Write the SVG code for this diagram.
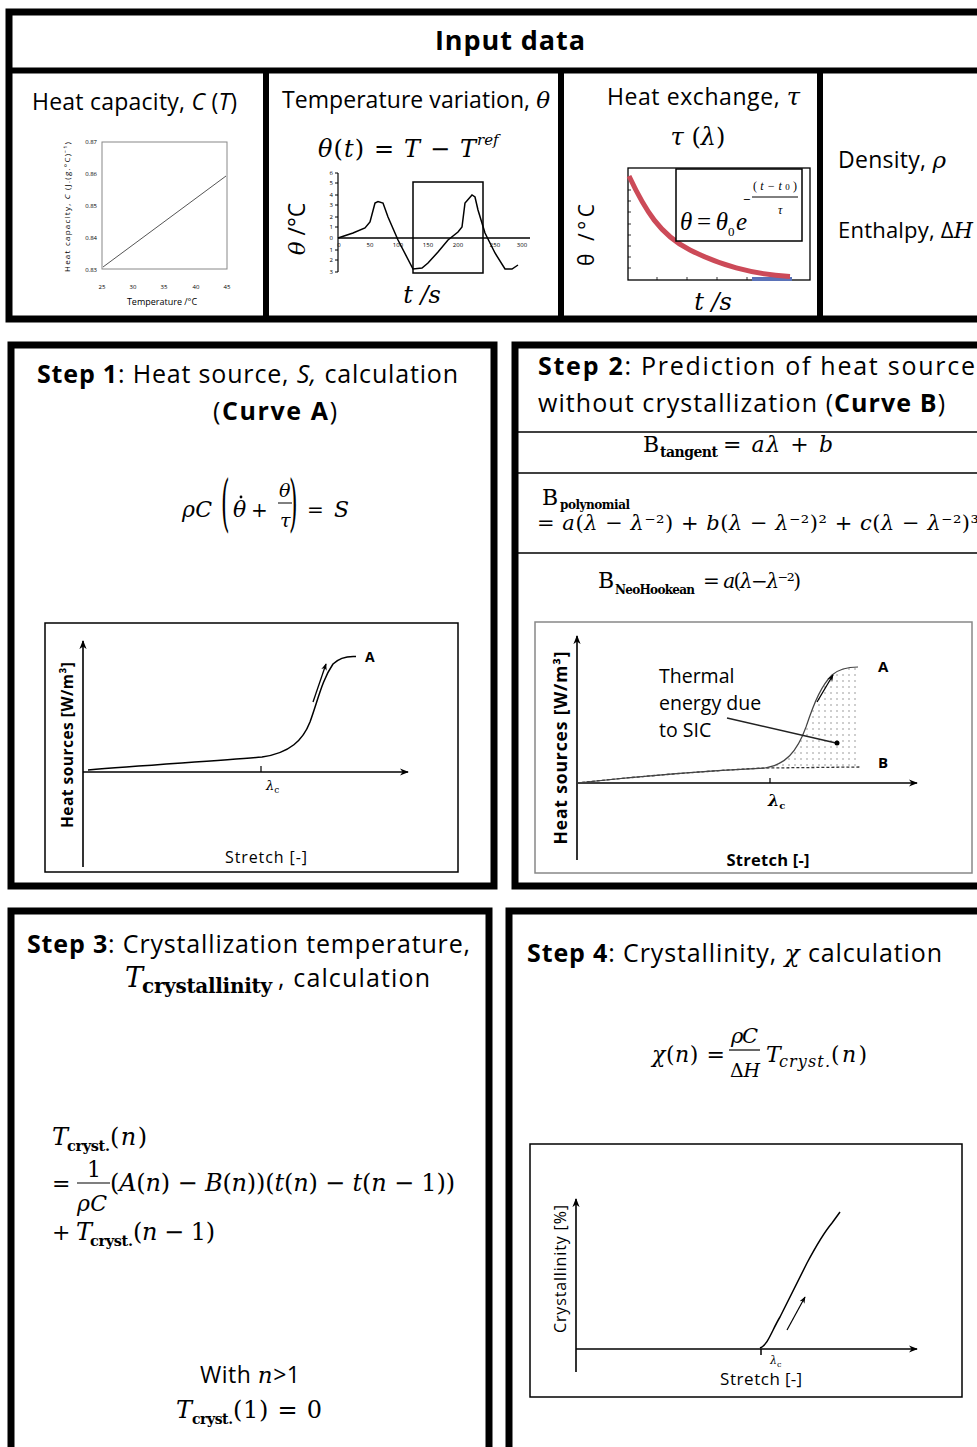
<svg xmlns="http://www.w3.org/2000/svg" width="977" height="1447" viewBox="0 0 977 1447">
<style>
text{font-family:"Open Sans","Liberation Sans",sans-serif;fill:#000}
.frame{fill:#fff;stroke:#000;stroke-width:7}
.div{stroke:#000;stroke-width:6}
.hd{font-size:23px}
.ttl{font-size:25px}
.b{font-weight:bold}
.m{font-family:"DejaVu Serif","Liberation Serif",serif;font-style:italic}
.lm{font-family:"Liberation Serif","DejaVu Serif",serif;font-style:italic}
.r{font-style:normal}
.sub{font-family:"DejaVu Serif","Liberation Serif",serif;font-weight:bold;font-style:normal}
.tick{font-size:6px;fill:#777}
.ax{fill:none;stroke:#000;stroke-width:1.6}
.sep{stroke:#000;stroke-width:1.5}
.cframe{fill:#fff;stroke:#000;stroke-width:1.5}
.curve{fill:none;stroke:#000;stroke-width:1.5}
</style>
<defs>
<marker id="ah" viewBox="0 0 10 10" refX="9" refY="5" markerWidth="9" markerHeight="9" markerUnits="userSpaceOnUse" orient="auto">
<path d="M0,1 L10,5 L0,9 L3,5 Z" fill="#000"/>
</marker>
<marker id="ahs" viewBox="0 0 10 10" refX="9" refY="5" markerWidth="7" markerHeight="7" markerUnits="userSpaceOnUse" orient="auto">
<path d="M0,1 L10,5 L0,9 L3,5 Z" fill="#000"/>
</marker>
<pattern id="dots" width="6" height="6" patternUnits="userSpaceOnUse">
<circle cx="3" cy="3" r="0.7" fill="#777"/>
</pattern>
</defs>
<rect x="0" y="0" width="977" height="1447" fill="#fff"/>

<!-- Input data -->
<g id="input-data">
<rect class="frame" x="9" y="12" width="985" height="307"/>
<line class="div" x1="9" y1="70.5" x2="977" y2="70.5"/>
<line class="div" x1="266" y1="70" x2="266" y2="319"/>
<line class="div" x1="561" y1="70" x2="561" y2="319"/>
<line class="div" x1="820" y1="70" x2="820" y2="319"/>
<text x="510" y="50" text-anchor="middle" font-size="27" font-weight="bold" textLength="150">Input data</text>

<g id="heat-capacity">
<text class="hd" x="32" y="110" textLength="205">Heat capacity, <tspan font-style="italic">C</tspan> (<tspan font-style="italic">T</tspan>)</text>
<rect x="102" y="142" width="125" height="127" fill="none" stroke="#888" stroke-width="1"/>
<line x1="103" y1="267" x2="226" y2="176" stroke="#555" stroke-width="1"/>
<g class="tick" text-anchor="end">
<text x="97" y="144">0.87</text><text x="97" y="176">0.86</text><text x="97" y="208">0.85</text><text x="97" y="240">0.84</text><text x="97" y="272">0.83</text>
</g>
<g class="tick" text-anchor="middle">
<text x="102" y="289">25</text><text x="133" y="289">30</text><text x="164" y="289">35</text><text x="196" y="289">40</text><text x="227" y="289">45</text>
</g>
<text x="162" y="305" text-anchor="middle" font-size="9" fill="#666">Temperature /°C</text>
<text transform="translate(70,207) rotate(-90)" text-anchor="middle" font-size="8" fill="#666" textLength="130">Heat capacity, <tspan font-style="italic">C</tspan> (J.(g.°C)⁻¹)</text>
</g>

<g id="temperature-variation">
<text class="hd" x="282" y="108" textLength="268">Temperature variation, <tspan class="m">θ</tspan></text>
<text class="m" x="318" y="157" font-size="24" textLength="158">θ<tspan class="r">(</tspan>t<tspan class="r">) = </tspan>T<tspan class="r"> − </tspan>T</text>
<text class="m" x="477" y="145" font-size="15">ref</text>
<line x1="338" y1="173" x2="338" y2="272" stroke="#000" stroke-width="1.2"/>
<path d="M335,173h3M335,183h3M335,195h3M335,205h3M335,217h3M335,227h3M335,250h3M335,260h3M335,272h3" stroke="#000" stroke-width="1"/>
<line x1="338" y1="238" x2="530" y2="238" stroke="#000" stroke-width="1.6"/>
<g class="tick" font-size="5" text-anchor="end">
<text x="333" y="175">6</text><text x="333" y="185">5</text><text x="333" y="197">4</text><text x="333" y="207">3</text><text x="333" y="219">2</text><text x="333" y="229">1</text><text x="333" y="240">0</text><text x="333" y="252">1</text><text x="333" y="262">2</text><text x="333" y="274">3</text>
</g>
<g class="tick" font-size="5" text-anchor="middle">
<text x="339" y="247">0</text><text x="370" y="247">50</text><text x="398" y="247">100</text><text x="428" y="247">150</text><text x="458" y="247">200</text><text x="495" y="247">250</text><text x="522" y="247">300</text>
</g>
<rect x="413" y="182" width="70" height="91" fill="none" stroke="#000" stroke-width="1.5"/>
<polyline class="curve" stroke-width="1.8" points="338,238 353,233 365,228 370,222 375,203 378,201.5 383,203 388,217 398,240 413,269 422,268 428,263 438,252 448,240 458,232 462,227 465,203 472,195 475,197 478,210 485,233 495,253 505,269 512,269 518,265"/>
<text transform="translate(305,229) rotate(-90)" text-anchor="middle" font-size="23"><tspan class="m">θ</tspan> /°C</text>
<text class="m" x="422" y="303" text-anchor="middle" font-size="24">t /s</text>
</g>

<g id="heat-exchange">
<text class="hd" x="607" y="105" textLength="193">Heat exchange, <tspan class="m" font-size="24">τ</tspan></text>
<text class="m" x="698" y="145" text-anchor="middle" font-size="24">τ<tspan class="r"> (</tspan>λ<tspan class="r">)</tspan></text>
<rect x="628" y="168" width="182" height="112" fill="none" stroke="#000" stroke-width="1.3"/>
<path d="M628,179h3M628,190h3M628,201h3M628,212h3M628,224h3M628,235h3M628,246h3M628,257h3M628,268h3M657,280v-3M687,280v-3M717,280v-3M747,280v-3M777,280v-3" stroke="#000" stroke-width="0.8"/>
<path d="M752,279 L792,279" stroke="#5a72b8" stroke-width="4" fill="none"/>
<path d="M629,176 C645,210 660,235 690,250 C720,265 750,274 790,276.5" stroke="#cc4a58" stroke-width="5" fill="none"/>
<rect x="676" y="169" width="126" height="72" fill="#fff" stroke="#000" stroke-width="1.5"/>
<text class="lm" x="680" y="230" font-size="25" textLength="48">θ<tspan class="r"> = </tspan>θ</text>
<text class="lm r" x="728" y="236" font-size="13">0</text>
<text class="lm" x="736" y="230" font-size="25">e</text>
<text x="743" y="204" font-size="13">−</text>
<text class="lm" x="753" y="190" font-size="12" textLength="44"><tspan class="r">(</tspan>t−t<tspan class="r" font-size="9">0</tspan><tspan class="r">)</tspan></text>
<line x1="752" y1="197" x2="798" y2="197" stroke="#000" stroke-width="1"/>
<text class="lm" x="778" y="214" font-size="12">τ</text>
<text transform="translate(594,235) rotate(-90)" text-anchor="middle" font-size="21" textLength="62">θ /°C</text>
<text class="m" x="713" y="310" text-anchor="middle" font-size="24">t /s</text>
</g>

<g id="density-enthalpy">
<text x="838" y="168" font-size="23" textLength="108">Density, <tspan class="m">ρ</tspan></text>
<text x="838" y="238" font-size="22" textLength="135">Enthalpy, Δ<tspan class="m">H</tspan></text>
</g>
</g>

<!-- Step 1 -->
<g id="step1">
<rect class="frame" x="11" y="345" width="483" height="541"/>
<text class="ttl" x="37" y="383" textLength="421"><tspan class="b">Step 1</tspan>: Heat source, <tspan font-style="italic">S,</tspan> calculation</text>
<text class="ttl" x="213" y="420" textLength="124">(<tspan class="b">Curve  A</tspan>)</text>
<text class="m" x="182" y="517" font-size="22" textLength="30">ρC</text>
<text class="m r" transform="translate(221,524) scale(1,2.8)" font-size="22">(</text>
<text class="m" x="233" y="517" font-size="22">θ</text>
<circle cx="241" cy="497" r="1.4" fill="#000"/>
<text class="m r" x="251" y="517" font-size="20">+</text>
<text class="m" x="279" y="497" font-size="19">θ</text>
<line x1="278" y1="503" x2="292" y2="503" stroke="#000" stroke-width="1"/>
<text class="m" x="280" y="527" font-size="19">τ</text>
<text class="m r" transform="translate(289,524) scale(1,2.8)" font-size="22">)</text>
<text class="m r" x="307" y="517" font-size="20">=</text>
<text class="m" x="334" y="517" font-size="22">S</text>

<rect class="cframe" x="45" y="623" width="413" height="249"/>
<line class="ax" x1="83" y1="867" x2="83" y2="641" marker-end="url(#ah)"/>
<line class="ax" x1="83" y1="772" x2="408" y2="772" marker-end="url(#ah)"/>
<line x1="261" y1="772" x2="261" y2="766" stroke="#000" stroke-width="1.2"/>
<path class="curve" d="M88,770 C150,765 230,760 262,757 C290,753 303,740 310,722 C318,700 322,680 333,664 C340,657 348,656 356,656.5"/>
<line x1="313" y1="702" x2="326" y2="664" stroke="#000" stroke-width="1.3" marker-end="url(#ahs)"/>
<text x="365" y="662" font-size="14" font-weight="bold">A</text>
<text class="m" x="266" y="790" font-size="13" fill="#666">λ<tspan class="r" font-size="9" dy="3">c</tspan></text>
<text transform="translate(73,745) rotate(-90)" text-anchor="middle" font-size="15.5" font-weight="bold" textLength="166">Heat sources [W/m³]</text>
<text x="266" y="863" text-anchor="middle" font-size="16" textLength="82">Stretch [-]</text>
</g>

<!-- Step 2 -->
<g id="step2">
<rect class="frame" x="515" y="345" width="475" height="541"/>
<text class="ttl" x="538" y="375" textLength="437"><tspan class="b">Step 2</tspan>: Prediction of heat source</text>
<text class="ttl" x="538" y="412" textLength="407">without crystallization (<tspan class="b">Curve  B</tspan>)</text>
<line class="sep" x1="518" y1="432" x2="977" y2="432"/>
<line class="sep" x1="518" y1="473" x2="977" y2="473"/>
<line class="sep" x1="518" y1="553" x2="977" y2="553"/>
<text class="m r" x="643" y="452" font-size="22">B</text>
<text class="sub" x="660" y="457" font-size="14" textLength="58">tangent</text>
<text class="m" x="723" y="452" font-size="22" textLength="110"><tspan class="r">= </tspan>aλ<tspan class="r"> + </tspan>b</text>
<text class="m r" x="542" y="505" font-size="22">B</text>
<text class="sub" x="560" y="509" font-size="12" textLength="70">polynomial</text>
<text class="m" x="537" y="530" font-size="21" textLength="442"><tspan class="r">= </tspan>a<tspan class="r">(</tspan>λ<tspan class="r"> − </tspan>λ<tspan class="r">⁻²) + </tspan>b<tspan class="r">(</tspan>λ<tspan class="r"> − </tspan>λ<tspan class="r">⁻²)² + </tspan>c<tspan class="r">(</tspan>λ<tspan class="r"> − </tspan>λ<tspan class="r">⁻²)³</tspan></text>
<text class="m r" x="598" y="588" font-size="22">B</text>
<text class="sub" x="615" y="594" font-size="12" textLength="80">NeoHookean</text>
<text class="m" x="703" y="588" font-size="20" textLength="98"><tspan class="r">= </tspan>a<tspan class="r">(</tspan>λ<tspan class="r">−</tspan>λ<tspan class="r">⁻²)</tspan></text>

<rect x="535" y="622" width="437" height="251" fill="#fff" stroke="#888" stroke-width="1.5"/>
<path d="M765,768 C785,765 797,752 806,727 C815,700 822,685 832,675 C840,668 850,667 858,667 L860,767 Z" fill="url(#dots)"/>
<line class="ax" x1="577" y1="860" x2="577" y2="636" marker-end="url(#ah)"/>
<line class="ax" x1="577" y1="783" x2="917" y2="783" marker-end="url(#ah)"/>
<line x1="770" y1="783" x2="770" y2="778" stroke="#000" stroke-width="1.2"/>
<path d="M577,783 C640,776 720,770 765,768 L860,767" fill="none" stroke="#333" stroke-width="1.3" stroke-dasharray="3,2"/>
<path d="M577,783 C640,776 720,770 765,768 C785,765 797,752 806,727 C815,700 822,685 832,675 C840,668 850,667 858,667" fill="none" stroke="#444" stroke-width="1.2"/>
<line x1="817" y1="702" x2="833" y2="675" stroke="#000" stroke-width="1.3" marker-end="url(#ahs)"/>
<line x1="727" y1="718" x2="836" y2="743" stroke="#222" stroke-width="1.6"/>
<circle cx="837" cy="743" r="2.5" fill="#000"/>
<text x="878" y="672" font-size="15" font-weight="bold" fill="#222">A</text>
<text x="878" y="768" font-size="15" font-weight="bold" fill="#222">B</text>
<text x="659" y="683" font-size="19.5" fill="#333">Thermal</text>
<text x="659" y="710" font-size="19.5" fill="#333">energy due</text>
<text x="659" y="737" font-size="19.5" fill="#333">to SIC</text>
<text class="m" x="768" y="806" font-size="16" font-weight="bold" fill="#222">λ<tspan class="r" font-size="10" dy="3">c</tspan></text>
<text transform="translate(567,748) rotate(-90)" text-anchor="middle" font-size="17.5" font-weight="bold" textLength="193" fill="#222">Heat sources [W/m³]</text>
<text x="768" y="866" text-anchor="middle" font-size="16.5" font-weight="bold" textLength="83" fill="#222">Stretch [-]</text>
</g>

<!-- Step 3 -->
<g id="step3">
<rect class="frame" x="11" y="911" width="478" height="550"/>
<text class="ttl" x="27" y="953" textLength="443"><tspan class="b">Step 3</tspan>: Crystallization temperature,</text>
<text class="m" x="125" y="987" font-size="27">T</text>
<text class="sub" x="142" y="993" font-size="20" textLength="130">crystallinity</text>
<text class="ttl" x="278" y="987" textLength="152">, calculation</text>

<text class="m" x="52" y="1145" font-size="24">T</text>
<text class="sub" x="67" y="1151" font-size="14.5" textLength="43">cryst.</text>
<text class="m" x="110" y="1145" font-size="24" textLength="37"><tspan class="r">(</tspan>n<tspan class="r">)</tspan></text>
<text class="m r" x="52" y="1191" font-size="22">=</text>
<text class="m r" x="87" y="1177" font-size="22">1</text>
<line x1="77" y1="1183" x2="110" y2="1183" stroke="#000" stroke-width="1.2"/>
<text class="m" x="77" y="1211" font-size="22" textLength="30">ρC</text>
<text class="m" x="110" y="1191" font-size="24" textLength="345"><tspan class="r">(</tspan>A<tspan class="r">(</tspan>n<tspan class="r">) − </tspan>B<tspan class="r">(</tspan>n<tspan class="r">))(</tspan>t<tspan class="r">(</tspan>n<tspan class="r">) − </tspan>t<tspan class="r">(</tspan>n<tspan class="r"> − 1))</tspan></text>
<text class="m r" x="52" y="1240" font-size="22">+</text>
<text class="m" x="76" y="1240" font-size="24">T</text>
<text class="sub" x="90" y="1246" font-size="14.5" textLength="43">cryst.</text>
<text class="m" x="133" y="1240" font-size="24" textLength="82"><tspan class="r">(</tspan>n<tspan class="r"> − 1)</tspan></text>

<text x="250" y="1383" text-anchor="middle" font-size="23" textLength="100">With <tspan class="m">n</tspan>&gt;1</text>
<text class="m" x="176" y="1418" font-size="24">T</text>
<text class="sub" x="192" y="1424" font-size="14" textLength="41">cryst.</text>
<text class="m r" x="233" y="1418" font-size="24" textLength="89">(1) = 0</text>
</g>

<!-- Step 4 -->
<g id="step4">
<rect class="frame" x="509" y="911" width="480" height="550"/>
<text class="ttl" x="527" y="962" textLength="415"><tspan class="b">Step 4</tspan>: Crystallinity, <tspan class="m">χ</tspan> calculation</text>
<text class="m" x="652" y="1062" font-size="22" textLength="73">χ<tspan class="r">(</tspan>n<tspan class="r">) =</tspan></text>
<text class="m" x="731" y="1043" font-size="21" textLength="27">ρC</text>
<line x1="729" y1="1050" x2="760" y2="1050" stroke="#000" stroke-width="1.2"/>
<text class="m" x="730" y="1077" font-size="19" textLength="30"><tspan class="r">Δ</tspan>H</text>
<text class="m" x="766" y="1062" font-size="22">T</text>
<text class="m" x="779" y="1067" font-size="16" textLength="51">cryst.</text>
<text class="m" x="831" y="1062" font-size="22" textLength="36"><tspan class="r">(</tspan>n<tspan class="r">)</tspan></text>

<rect class="cframe" x="530" y="1144" width="432" height="253"/>
<line class="ax" x1="576" y1="1372" x2="576" y2="1199" marker-end="url(#ah)"/>
<line class="ax" x1="576" y1="1349" x2="917" y2="1349" marker-end="url(#ah)"/>
<line x1="761" y1="1349" x2="761" y2="1355" stroke="#000" stroke-width="1.5"/>
<path class="curve" stroke-width="1.3" d="M760,1348 C768,1345 772,1330 780,1317 L807,1263 C815,1248 822,1235 832,1223 L840,1212"/>
<line x1="787" y1="1330" x2="805" y2="1297" stroke="#000" stroke-width="1.2" marker-end="url(#ahs)"/>
<text class="m" x="770" y="1364" font-size="11" fill="#666">λ<tspan class="r" font-size="8" dy="3">c</tspan></text>
<text transform="translate(566,1269) rotate(-90)" text-anchor="middle" font-size="16" textLength="128" fill="#222">Crystallinity [%]</text>
<text x="720" y="1385" font-size="17" textLength="60" fill="#222">Stretch</text>
<text x="785" y="1385" font-size="17" textLength="17" fill="#334">[-]</text>
</g>

<g id="connectors"/>
</svg>
